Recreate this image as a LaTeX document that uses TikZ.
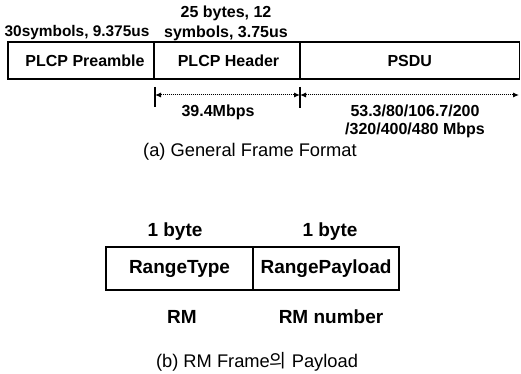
\documentclass[tikz,border=0pt]{standalone}
\usepackage{fontspec}
\setmainfont{Liberation Sans}
\newfontfamily\krfont{Noto Sans CJK KR}
\usetikzlibrary{arrows.meta}
\begin{document}
\begin{tikzpicture}[x=1pt,y=-1pt,
  fld/.style={draw, line width=1.2pt, inner sep=0pt, outer sep=0pt, anchor=north west,
    minimum height=37pt, font=\fontsize{16}{20}\selectfont\bfseries},
  fldb/.style={draw, line width=1.2pt, inner sep=0pt, outer sep=0pt, anchor=north west,
    minimum height=43pt, font=\fontsize{19}{22}\selectfont\bfseries},
  lbla/.style={inner sep=0pt, align=center, font=\fontsize{16}{18}\selectfont\bfseries},
  lblb/.style={inner sep=0pt, align=center, font=\fontsize{19}{22}\selectfont\bfseries},
  captxt/.style={inner sep=0pt, font=\fontsize{18.3}{22}\selectfont},
  dimln/.style={line width=1pt, dash pattern=on 1.2pt off 0.8pt, {Latex[length=6pt,width=5pt]}-{Latex[length=6pt,width=5pt]}},
  tickln/.style={line width=1.1pt}
]
\useasboundingbox (0,0) rectangle (521,374);

% (a) General frame format
\node[fld, minimum width=146pt] (pre) at (8,42) {\hspace*{8pt}PLCP Preamble};
\node[fld, minimum width=146pt] (hdr) at (154,42) {\hspace*{3pt}PLCP Header};
\node[fld, minimum width=219.5pt] (psdu) at (300,42) {PSDU};

\node[lbla, font=\fontsize{15.4}{20}\selectfont\bfseries] (ta) at (77,33) {30symbols, 9.375us};
\node[lbla, font=\fontsize{16}{20}\selectfont\bfseries] (tb) at (226,23) {25 bytes, 12\\symbols, 3.75us};

\coordinate (a1) at (155,95);
\coordinate (a2) at (300,95);
\coordinate (a3) at (519,95);
\coordinate (k1t) at (155,87);
\coordinate (k1b) at (155,107);
\coordinate (k2t) at (300,87);
\coordinate (k2b) at (300,108);
\draw[tickln] (k1t) -- (k1b);
\draw[tickln] (k2t) -- (k2b);
\draw[dimln] (a1) -- (a2);
\draw[dimln] (a2) -- (a3);

\node[lbla] (r1) at (218,112) {39.4Mbps};
\node[lbla] (r2) at (415,121) {53.3/80/106.7/200\\/320/400/480 Mbps};

\node[captxt] (capa) at (250,152) {(a) General Frame Format};

% (b) RM frame payload
\node[fldb, minimum width=147pt] (rt) at (106,247) {RangeType};
\node[fldb, minimum width=146pt] (rp) at (253,247) {RangePayload};

\node[lblb] (b1) at (175,232) {1 byte};
\node[lblb] (b2) at (330,232) {1 byte};
\node[lblb] (m1) at (182,317) {RM};
\node[lblb] (m2) at (331,317) {RM number};

\node[captxt] (capb) at (257,362) {(b) RM Frame{\krfont 의} Payload};
\end{tikzpicture}
\end{document}
